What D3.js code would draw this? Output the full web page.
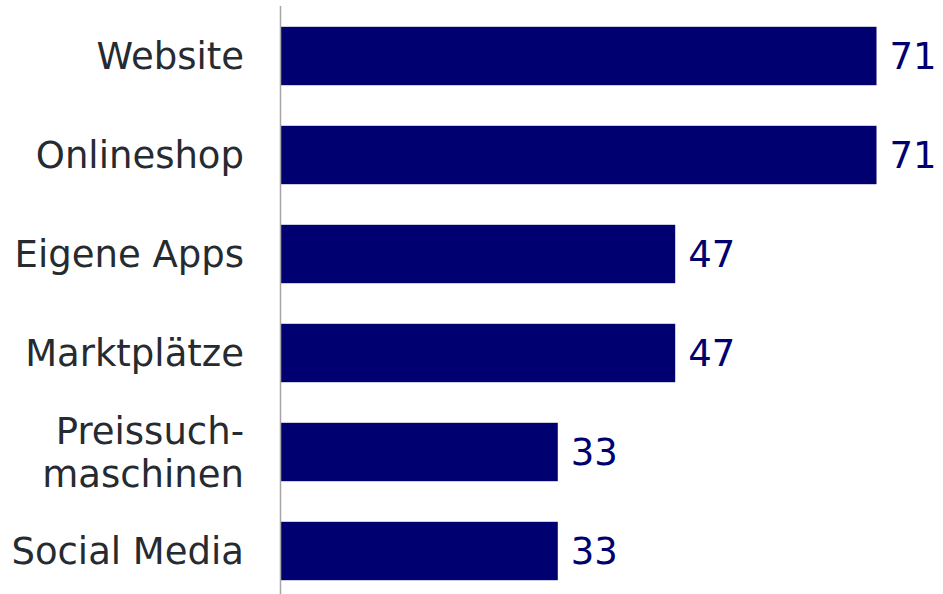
<!DOCTYPE html>
<html>
<head>
<meta charset="utf-8">
<script src="https://cdn.jsdelivr.net/npm/d3@7"></script>
<style>
  html, body { margin: 0; padding: 0; background: #ffffff; }
  svg { display: block; }
</style>
</head>
<body>
<svg id="chart" width="943" height="594"></svg>
<script>
// Channels (each label line is a separate entry) and their shares
const categories = [
  ["Website"],
  ["Onlineshop"],
  ["Eigene Apps"],
  ["Marktplätze"],
  ["Preissuch-", "maschinen"],
  ["Social Media"]
];
const values = [71, 71, 47, 47, 33, 33];

const width = 943, height = 594;
const margin = { top: 6, left: 281 };
const fontSize = 37;
const lineHeight = 43;
const capHalf = fontSize * 0.729 / 2;

const svg = d3.select("#chart");

const keys = categories.map(c => c.join(""));

const x = d3.scaleLinear()
  .domain([0, 71])
  .range([margin.left, 876.5]);

const y = d3.scaleBand()
  .domain(keys)
  .range([margin.top + 0.5, margin.top + 0.5 + 99 * keys.length])
  .paddingInner(0.41)
  .paddingOuter(0.205);

// Bars
svg.append("g")
  .selectAll("rect")
  .data(values)
  .join("rect")
  .attr("x", x(0))
  .attr("y", (d, i) => y(keys[i]))
  .attr("width", d => x(d) - x(0))
  .attr("height", y.bandwidth())
  .attr("fill", "#000070");

// Vertical axis line
svg.append("line")
  .attr("x1", 280.5).attr("x2", 280.5)
  .attr("y1", margin.top).attr("y2", height)
  .attr("stroke", "#a6a6a6")
  .attr("stroke-width", 1.5);

// Category labels, right-aligned and centred on each bar
const labels = svg.append("g")
  .attr("font-family", "'DejaVu Sans', Verdana, sans-serif")
  .attr("font-size", fontSize)
  .attr("fill", "#262a31")
  .attr("text-anchor", "end");

categories.forEach((lines, i) => {
  const cy = y(keys[i]) + y.bandwidth() / 2;
  const n = lines.length;
  const t = labels.append("text")
    .attr("x", 244)
    .attr("y", cy + capHalf - (n - 1) * lineHeight / 2);
  lines.forEach((ln, j) => {
    t.append("tspan")
      .attr("x", 244)
      .attr("dy", j === 0 ? 0 : lineHeight)
      .text(ln);
  });
});

// Value labels at the end of each bar
svg.append("g")
  .attr("font-family", "'DejaVu Sans', Verdana, sans-serif")
  .attr("font-size", fontSize)
  .attr("fill", "#000070")
  .selectAll("text")
  .data(values)
  .join("text")
  .attr("x", d => x(d) + 13)
  .attr("y", (d, i) => y(keys[i]) + y.bandwidth() / 2 + capHalf)
  .text(d => d);
</script>
</body>
</html>
